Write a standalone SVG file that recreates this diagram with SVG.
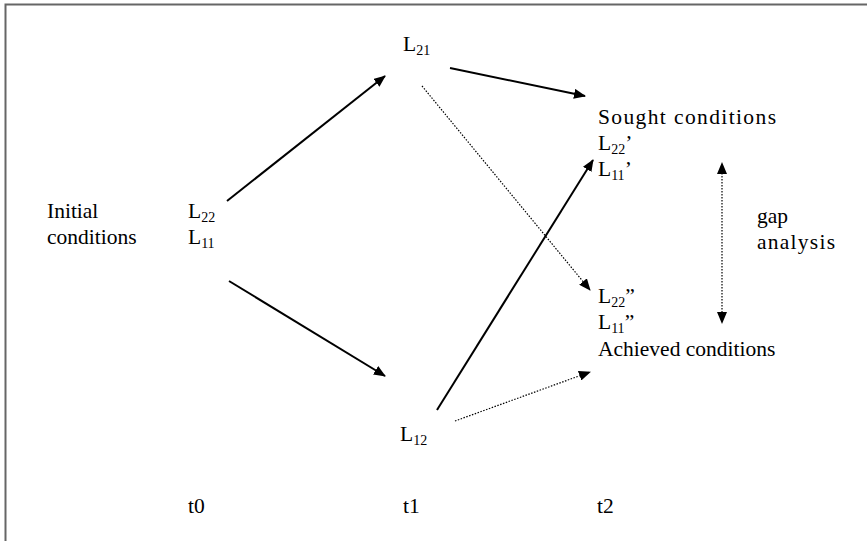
<svg xmlns="http://www.w3.org/2000/svg" width="867" height="541" viewBox="0 0 867 541">
<style>
text{font-family:"Liberation Serif","Times New Roman",serif;font-size:21.5px;fill:#000}
.sub{font-size:14px}
.solid{stroke:#000;stroke-width:2;fill:none}
.dot{stroke:#000;stroke-width:1.2;stroke-dasharray:1.5 1.5;fill:none}
</style>
<defs>
<marker id="ah" markerWidth="12" markerHeight="10" refX="11" refY="5" orient="auto" markerUnits="userSpaceOnUse">
<path d="M0,0 L12,5 L0,10 Z" fill="#000"/>
</marker>
</defs>
<rect x="0" y="0" width="867" height="541" fill="#fff"/>
<path d="M5.5,541 V4.5 H867" stroke="#666" stroke-width="2" fill="none"/>
<g id="connectors">
<line class="solid" x1="227" y1="201" x2="385" y2="76" marker-end="url(#ah)"/>
<line class="solid" x1="229" y1="281" x2="385" y2="376" marker-end="url(#ah)"/>
<line class="solid" x1="450" y1="68" x2="585" y2="96" marker-end="url(#ah)"/>
<line class="dot" x1="422" y1="86" x2="590" y2="290" marker-end="url(#ah)"/>
<line class="solid" x1="437" y1="410" x2="593" y2="160" marker-end="url(#ah)"/>
<line class="dot" x1="455" y1="421" x2="590" y2="372" marker-end="url(#ah)"/>
<line class="dot" x1="722" y1="170" x2="722" y2="315"/>
<path d="M717,174 L722,162 L727,174 Z M717,312 L722,324 L727,312 Z" fill="#000"/>
</g>
<g id="initial"><text x="47" y="218">Initial</text><text x="47" y="244">conditions</text></g>
<g id="t0node"><text x="188" y="218">L<tspan class="sub" dy="4">22</tspan></text><text x="188" y="244">L<tspan class="sub" dy="4">11</tspan></text></g>
<g id="L21"><text x="403" y="51">L<tspan class="sub" dy="4">21</tspan></text></g>
<g id="L12"><text x="400" y="441">L<tspan class="sub" dy="4">12</tspan></text></g>
<g id="sought"><text x="598" y="124" textLength="178" lengthAdjust="spacing">Sought conditions</text><text x="598" y="150">L<tspan class="sub" dy="4">22</tspan><tspan dy="-4">’</tspan></text><text x="598" y="176">L<tspan class="sub" dy="4">11</tspan><tspan dy="-4">’</tspan></text></g>
<g id="gap"><text x="757" y="223">gap</text><text x="757" y="249" textLength="78" lengthAdjust="spacing">analysis</text></g>
<g id="achieved"><text x="598" y="303">L<tspan class="sub" dy="4">22</tspan><tspan dy="-4">”</tspan></text><text x="598" y="329">L<tspan class="sub" dy="4">11</tspan><tspan dy="-4">”</tspan></text><text x="598" y="356">Achieved conditions</text></g>
<g id="times"><text x="188" y="513">t0</text><text x="403" y="513">t1</text><text x="597" y="513">t2</text></g>
</svg>
